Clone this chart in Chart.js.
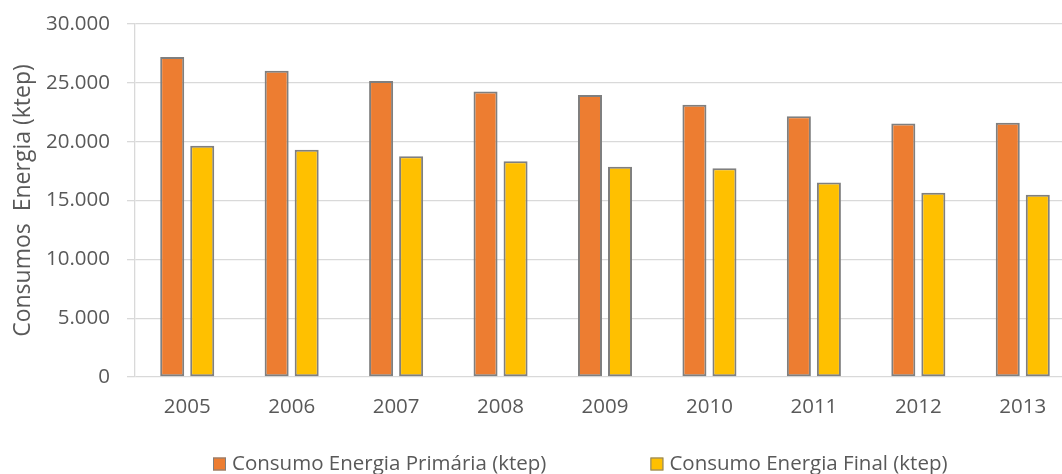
<!DOCTYPE html>
<html lang="pt">
<head>
<meta charset="utf-8">
<title>Consumos de Energia 2005-2013</title>
<script src="https://cdn.jsdelivr.net/npm/chart.js@4/dist/chart.umd.min.js"></script>
<style>
  html, body { margin: 0; padding: 0; background: #fff; overflow: hidden; }
  #wrap { width: 1075px; height: 474px; }
</style>
</head>
<body>
<div id="wrap"><canvas id="energia-chart" width="1075" height="474"></canvas></div>
<script>
const anos = ['2005', '2006', '2007', '2008', '2009', '2010', '2011', '2012', '2013'];
const energiaPrimaria = [27190, 26030, 25150, 24270, 23960, 23130, 22170, 21550, 21600];
const energiaFinal = [19650, 19310, 18770, 18340, 17860, 17750, 16530, 15650, 15480];
const yTicks = [0, 5000, 10000, 15000, 20000, 25000, 30000];

const TEXT = '#595959';
const GRID = '#d9d9d9';
const FONT = '"Open Sans", "DejaVu Sans", sans-serif';

// pt formatting: 25000 -> "25.000"
const fmt = (v) => (v === 0 ? '0' : (v / 1000).toFixed(3));

// legend drawn by hand so the two items can sit far apart on one row
const bottomLegend = {
  id: 'bottomLegend',
  afterDraw(chart) {
    const { ctx, chartArea } = chart;
    ctx.save();
    ctx.font = `20.5px ${FONT}`;
    ctx.textBaseline = 'middle';
    ctx.textAlign = 'left';
    let x = chartArea.left + 78;
    const y = 464;
    chart.data.datasets.forEach((ds) => {
      ctx.fillStyle = ds.backgroundColor;
      ctx.fillRect(x, y - 6.5, 13, 13);
      ctx.strokeStyle = ds.borderColor;
      ctx.lineWidth = 1;
      ctx.strokeRect(x + 0.5, y - 6, 12, 12);
      ctx.fillStyle = TEXT;
      ctx.fillText(ds.label, x + 19, y);
      x += 19 + ctx.measureText(ds.label).width + 104;
    });
    ctx.restore();
  },
};

const barStyle = {
  borderColor: '#7f7f7f',
  borderWidth: 2,
  borderSkipped: false,
  barPercentage: 0.8,
  categoryPercentage: 0.575,
};

new Chart(document.getElementById('energia-chart'), {
  type: 'bar',
  data: {
    labels: anos,
    datasets: [
      { label: 'Consumo Energia Primária (ktep)', data: energiaPrimaria, backgroundColor: '#ED7D31', ...barStyle },
      { label: 'Consumo Energia Final (ktep)', data: energiaFinal, backgroundColor: '#FFC000', ...barStyle },
    ],
  },
  options: {
    responsive: false,
    devicePixelRatio: 1,
    animation: false,
    layout: { padding: { top: 24, right: 0, bottom: 0, left: 0 } },
    plugins: {
      legend: { display: false },
      tooltip: { enabled: false },
    },
    scales: {
      x: {
        grid: { display: false, drawTicks: false },
        border: { display: false },
        ticks: { color: TEXT, font: { family: FONT, size: 20.5 }, padding: 18 },
        afterFit: (scale) => { scale.height = 97; },
      },
      y: {
        min: 0,
        max: 30000,
        afterBuildTicks: (scale) => { scale.ticks = yTicks.map((value) => ({ value })); },
        grid: { color: GRID, lineWidth: 1.3, tickLength: 8, tickColor: GRID },
        border: { display: true, color: GRID, width: 1.3 },
        ticks: { color: TEXT, font: { family: FONT, size: 20.5 }, padding: 17, callback: fmt },
        title: {
          display: true,
          text: 'Consumos  Energia (ktep)',
          color: TEXT,
          font: { family: FONT, size: 23 },
          padding: { top: 10, bottom: 0 },
        },
        afterFit: (scale) => {
          scale.width = 135;
          // top label may overhang the plot; the layout padding already leaves room
          scale.paddingTop = 0;
          scale.paddingBottom = 0;
        },
      },
    },
  },
  plugins: [bottomLegend],
});
</script>
</body>
</html>
